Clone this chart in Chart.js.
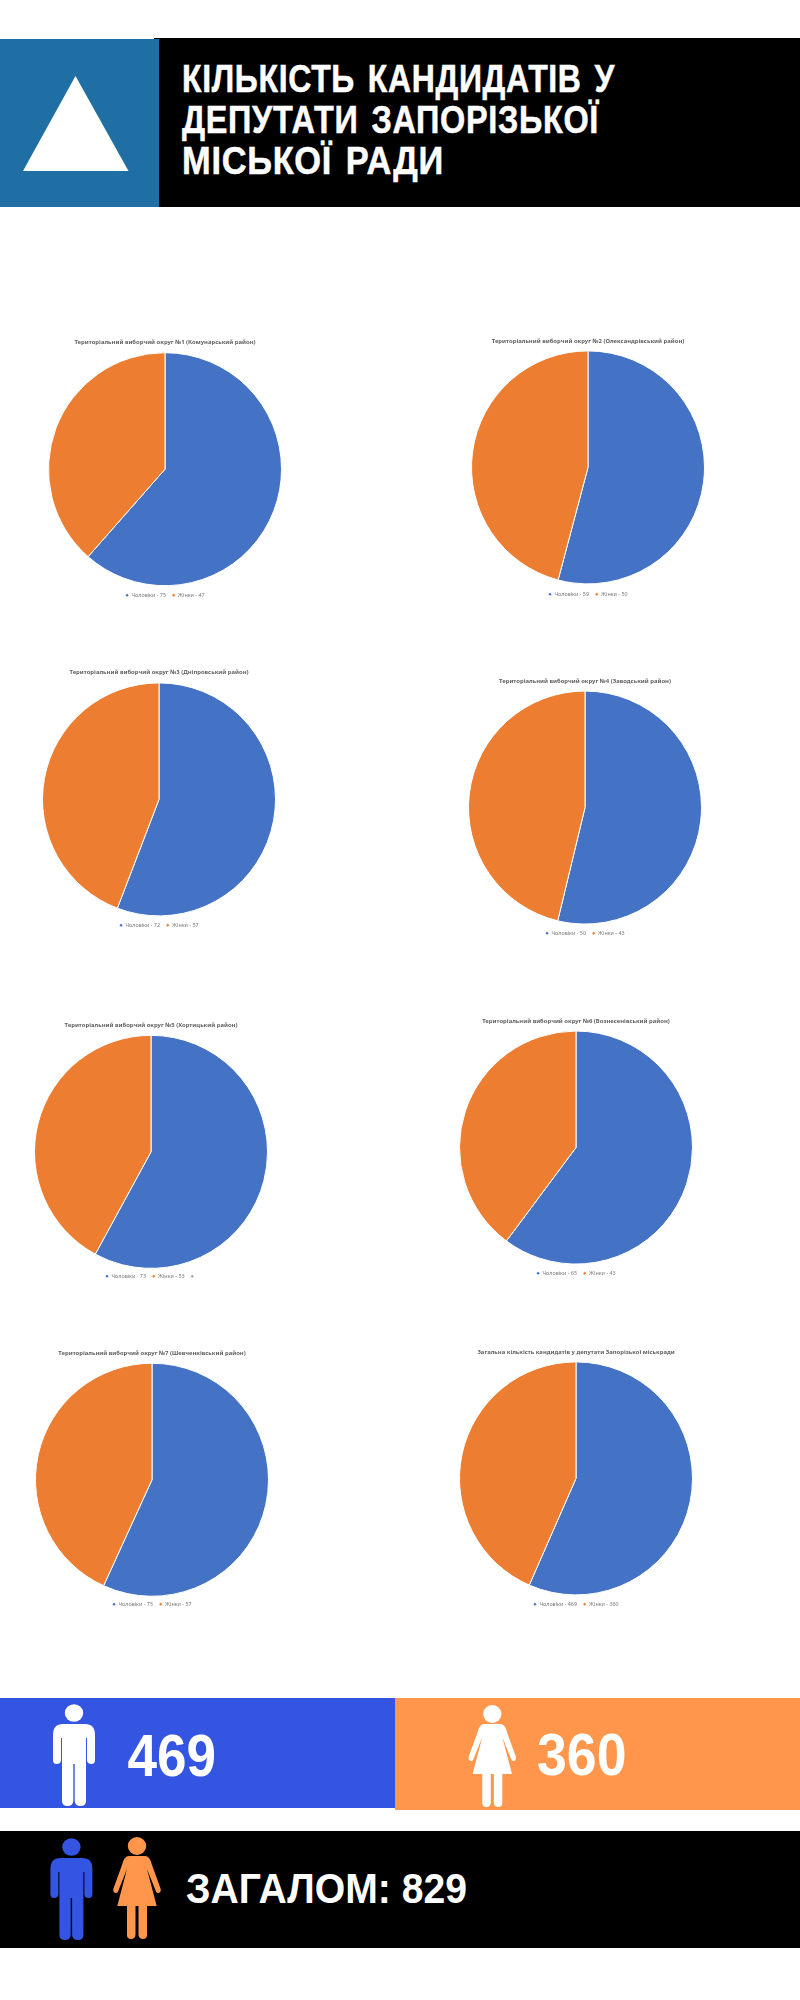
<!DOCTYPE html>
<html lang="uk">
<head>
<meta charset="utf-8">
<title>Кількість кандидатів у депутати Запорізької міської ради</title>
<script src="https://cdn.jsdelivr.net/npm/chart.js@4"></script>
<style>
  html, body { margin: 0; padding: 0; background: #fff; }
  #page { position: relative; width: 800px; height: 2000px; overflow: hidden; }
  #art { position: absolute; left: 0; top: 0; }
  #art text { font-family: "Liberation Sans", sans-serif; font-weight: 700; fill: #fff; }
  #art .heading { letter-spacing: 0.8px; word-spacing: 4px; stroke: #fff; stroke-width: 0.5px; }
  canvas { position: absolute; filter: blur(0.6px); }
</style>
</head>
<body>
<div id="page">
  <svg id="art" width="800" height="2000" viewBox="0 0 800 2000">
    <defs>
      <g id="man">
        <ellipse cx="0" cy="0" rx="9.2" ry="8.8"/>
        <path d="M-11 11H11Q21 11 21 22V47Q21 51 17.500 51Q13 51 13 47V25H12V88Q12 93 6.500 93Q1 93 .7 88V51H-.7V88Q-1 93-6.500 93Q-12 93-12 88V25H-13V47Q-13 51-17.500 51Q-21 51-21 47V22Q-21 11-11 11Z"/>
      </g>
      <g id="woman">
        <ellipse cx="0" cy="0" rx="9.2" ry="9"/>
        <path d="M-8 10H8Q13 10 15 19L23.700 43Q24.200 47 21 47Q19 47 18 43L10 23L19.700 60H10V89Q10 93 6 93Q2 93 1.500 89V60H-1.500V89Q-2 93-6 93Q-10 93-10 89V60H-19.700L-10 23L-18 43Q-19 47-21 47Q-24.200 47-23.700 43L-15 19Q-13 10-8 10Z"/>
      </g>
    </defs>

    <rect x="154" y="38" width="646" height="169" fill="#000"/>
    <rect x="0" y="39" width="159" height="168" fill="#1f6fa5"/>
    <polygon points="75.500,76 128.500,171 23,171" fill="#fff"/>
    <text class="heading" x="182" y="92.300" font-size="39" textLength="433" lengthAdjust="spacingAndGlyphs">КІЛЬКІСТЬ КАНДИДАТІВ У</text>
    <text class="heading" x="182" y="133.300" font-size="39" textLength="417" lengthAdjust="spacingAndGlyphs">ДЕПУТАТИ ЗАПОРІЗЬКОЇ</text>
    <text class="heading" x="182" y="174" font-size="39" textLength="262" lengthAdjust="spacingAndGlyphs">МІСЬКОЇ РАДИ</text>

    <rect x="0" y="1698" width="395" height="110" fill="#3355e1"/>
    <rect x="395" y="1698" width="405" height="112" fill="#ff964c"/>
    <use href="#man" x="74" y="1713" fill="#fff"/>
    <use href="#woman" x="492.300" y="1714" fill="#fff"/>
    <text x="127.500" y="1776" font-size="60" textLength="88.500" lengthAdjust="spacingAndGlyphs">469</text>
    <text x="537" y="1775" font-size="60" textLength="89.500" lengthAdjust="spacingAndGlyphs">360</text>

    <rect x="0" y="1831" width="800" height="117" fill="#000"/>
    <use href="#man" x="71.400" y="1847" fill="#3355e1"/>
    <use href="#woman" x="137" y="1846" fill="#ff964c"/>
    <text x="186" y="1903" font-size="42" textLength="281" lengthAdjust="spacingAndGlyphs">ЗАГАЛОМ: 829</text>
  </svg>
</div>

<script>
  const districts = [
    "Територіальний виборчий округ №1 (Комунарський район)",
    "Територіальний виборчий округ №2 (Олександрівський район)",
    "Територіальний виборчий округ №3 (Дніпровський район)",
    "Територіальний виборчий округ №4 (Заводський район)",
    "Територіальний виборчий округ №5 (Хортицький район)",
    "Територіальний виборчий округ №6 (Вознесенівський район)",
    "Територіальний виборчий округ №7 (Шевченківський район)",
    "Загальна кількість кандидатів у депутати Запорізької міськради"
  ];
  const men = [75, 59, 72, 50, 73, 65, 75, 469];
  const women = [47, 50, 57, 43, 53, 43, 57, 360];
  // one sheet had a third, empty legend entry
  const blank = [null, null, null, null, 0, null, null, null];

  // where each pie sits on the page
  const panels = [
    { cx: 165, cy: 468.5, titleY: 342, legendY: 595 },
    { cx: 587.7, cy: 466.7, titleY: 341, legendY: 594 },
    { cx: 159, cy: 798.7, titleY: 672, legendY: 925 },
    { cx: 585, cy: 806.7, titleY: 680.7, legendY: 933 },
    { cx: 150.6, cy: 1151, titleY: 1024.7, legendY: 1276 },
    { cx: 576.3, cy: 1146.7, titleY: 1020.7, legendY: 1273 },
    { cx: 151.6, cy: 1479.7, titleY: 1353.3, legendY: 1605 },
    { cx: 575.8, cy: 1477.7, titleY: 1351.7, legendY: 1604.3 }
  ];

  const RADIUS = 116.5;
  const CANVAS_WIDTH = 300;
  const TITLE_SIZE = 5.9;
  const LEGEND_SIZE = 5.4;
  const LEGEND_PAD = 6;
  const LINE_HEIGHT = 1.2;
  const TITLE_TOP = 2;
  // the chart area only centres the pie, it may be smaller than the pie
  const PIE_NUDGE = 2;
  const LEGEND_NUDGE = 3.5;
  const TITLE_NUDGE = 0.5;

  Chart.defaults.font.family = '"Noto Sans", sans-serif';

  function buildPie(index) {
    const panel = panels[index];
    const cy = panel.cy + PIE_NUDGE;
    const legendY = panel.legendY + LEGEND_NUDGE;
    const titleY = panel.titleY + TITLE_NUDGE;
    const titleLine = TITLE_SIZE * LINE_HEIGHT;
    const legendLine = LEGEND_SIZE * LINE_HEIGHT;
    const areaHalf = legendY - cy - LEGEND_PAD - legendLine / 2;
    const titleBottom = cy - areaHalf - titleY - titleLine / 2;
    const top = titleY - titleLine / 2 - TITLE_TOP;
    const bottom = legendY + legendLine / 2 + LEGEND_PAD;

    const labels = [`Чоловіки - ${men[index]}`, `Жінки - ${women[index]}`];
    const values = [men[index], women[index]];
    const colors = ["#4472c4", "#ed7d31"];
    if (blank[index] !== null) {
      labels.push("");
      values.push(blank[index]);
      colors.push("#a5a5a5");
    }

    const canvas = document.createElement("canvas");
    canvas.width = CANVAS_WIDTH;
    canvas.height = Math.round(bottom - top);
    canvas.style.left = panel.cx - CANVAS_WIDTH / 2 + "px";
    canvas.style.top = top + "px";
    document.getElementById("page").appendChild(canvas);

    return new Chart(canvas, {
      type: "pie",
      data: {
        labels,
        datasets: [
          {
            data: values,
            backgroundColor: colors,
            borderColor: "#fff",
            borderWidth: 1,
            radius: RADIUS
          }
        ]
      },
      options: {
        responsive: false,
        animation: false,
        plugins: {
          tooltip: { enabled: false },
          title: {
            display: true,
            text: districts[index],
            color: "#5f5f5f",
            font: { size: TITLE_SIZE, weight: "bold", lineHeight: LINE_HEIGHT },
            padding: { top: TITLE_TOP, bottom: titleBottom }
          },
          legend: {
            position: "bottom",
            labels: {
              color: "#7a7a7a",
              font: { size: LEGEND_SIZE, lineHeight: LINE_HEIGHT },
              usePointStyle: true,
              pointStyle: "circle",
              boxWidth: 3.4,
              boxHeight: 2.5,
              padding: LEGEND_PAD
            }
          }
        }
      }
    });
  }

  districts.forEach((name, index) => buildPie(index));
</script>
</body>
</html>
